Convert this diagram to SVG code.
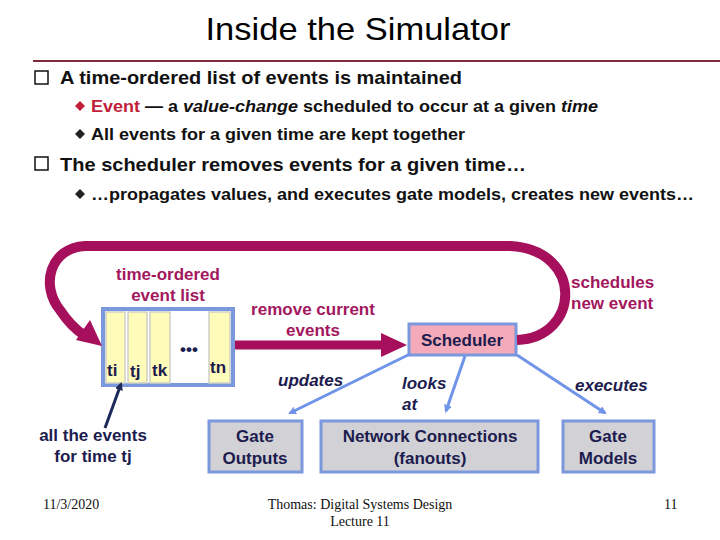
<svg xmlns="http://www.w3.org/2000/svg" width="720" height="540" viewBox="0 0 720 540">
<style>
.b{font-family:"Liberation Sans",Arial,sans-serif;font-weight:bold;fill:#111}
.n{font-family:"Liberation Sans",Arial,sans-serif;font-weight:bold;fill:#1c1c4e;font-size:17px}
.ni{font-family:"Liberation Sans",Arial,sans-serif;font-weight:bold;font-style:italic;fill:#1c1c4e;font-size:17px}
.m{font-family:"Liberation Sans",Arial,sans-serif;font-weight:bold;fill:#a3175e;font-size:17px}
.t{font-family:"Liberation Serif","Times New Roman",serif;fill:#111;font-size:14px}
.box{fill:#d2d2d6;stroke:#7b98dc;stroke-width:3}
.cell{fill:#fffbb8;stroke:#cfd0c8;stroke-width:1.5}
.blue{stroke:#6f94e8;stroke-width:3;fill:none}
.mag{stroke:#a50f5c;fill:none}
</style>
<defs>
<marker id="ba" markerWidth="8" markerHeight="8" refX="6" refY="4" orient="auto" markerUnits="userSpaceOnUse" viewBox="0 0 8 8">
<path d="M0,0 L8,4 L0,8 Z" fill="#6f94e8"/>
</marker>
<marker id="na" markerWidth="8" markerHeight="8" refX="6" refY="4" orient="auto" markerUnits="userSpaceOnUse" viewBox="0 0 8 8">
<path d="M0,0 L8,4 L0,8 Z" fill="#1c2a5a"/>
</marker>
</defs>
<rect width="720" height="540" fill="#fff"/>
<text x="358" y="40" text-anchor="middle" font-family="'Liberation Sans',Arial,sans-serif" font-size="32" fill="#000" textLength="305" lengthAdjust="spacingAndGlyphs">Inside the Simulator</text>
<line x1="33" y1="61" x2="720" y2="61" stroke="#7f2a3a" stroke-width="2"/>
<rect x="35" y="71" width="13" height="13" fill="none" stroke="#111" stroke-width="1.5"/>
<text class="b" x="60" y="84" font-size="19" textLength="402" lengthAdjust="spacingAndGlyphs">A time-ordered list of events is maintained</text>
<path d="M80,101 L85,106 L80,111 L75,106 Z" fill="#c0203a"/>
<text class="b" x="91" y="112" font-size="17" textLength="507" lengthAdjust="spacingAndGlyphs"><tspan fill="#c0203a">Event</tspan> — a <tspan font-style="italic">value-change</tspan> scheduled to occur at a given <tspan font-style="italic">time</tspan></text>
<path d="M80,129 L85,134 L80,139 L75,134 Z" fill="#222"/>
<text class="b" x="91" y="140" font-size="17" textLength="374" lengthAdjust="spacingAndGlyphs">All events for a given time are kept together</text>
<rect x="35" y="157" width="13" height="13" fill="none" stroke="#111" stroke-width="1.5"/>
<text class="b" x="60" y="171" font-size="19" textLength="466" lengthAdjust="spacingAndGlyphs">The scheduler removes events for a given time…</text>
<path d="M80,189 L85,194 L80,199 L75,194 Z" fill="#222"/>
<text class="b" x="91" y="200" font-size="17" textLength="603" lengthAdjust="spacingAndGlyphs">…propagates values, and executes gate models, creates new events…</text>

<g id="event-list">
<rect x="103" y="309" width="130" height="76" fill="#fff" stroke="#7b98dc" stroke-width="4"/>
<rect class="cell" x="106" y="312" width="19" height="71"/>
<rect class="cell" x="128" y="312" width="19" height="71"/>
<rect class="cell" x="150" y="312" width="20" height="71"/>
<rect class="cell" x="209" y="312" width="21" height="71"/>
<text class="n" x="107" y="376">ti</text>
<text class="n" x="130" y="377">tj</text>
<text class="n" x="152" y="376">tk</text>
<text class="n" x="210" y="373">tn</text>
<text class="n" x="189" y="355" text-anchor="middle" font-size="14">•••</text>
<text class="m" x="168" y="280" text-anchor="middle">time-ordered</text>
<text class="m" x="168" y="301" text-anchor="middle">event list</text>
</g>

<g id="remove-label">
<text class="m" x="313" y="315" text-anchor="middle">remove current</text>
<text class="m" x="313" y="336" text-anchor="middle">events</text>
</g>

<g id="schedules-label">
<text class="m" x="571" y="288">schedules</text>
<text class="m" x="571" y="309">new event</text>
</g>

<g id="scheduler">
<rect x="409" y="324" width="107" height="31" fill="#f4aab8" stroke="#7b98dc" stroke-width="3"/>
<text class="n" x="462" y="346" text-anchor="middle">Scheduler</text>
</g>

<g id="edge-labels">
<text class="ni" x="278" y="386">updates</text>
<text class="ni" x="402" y="389">looks</text>
<text class="ni" x="402" y="410">at</text>
<text class="ni" x="575" y="391">executes</text>
</g>

<g id="all-events-label">
<text class="n" x="93" y="441" text-anchor="middle">all the events</text>
<text class="n" x="93" y="462" text-anchor="middle">for time tj</text>
</g>

<g id="gate-outputs">
<rect class="box" x="209" y="421" width="93" height="51"/>
<text class="n" x="255" y="442" text-anchor="middle">Gate</text>
<text class="n" x="255" y="464" text-anchor="middle">Outputs</text>
</g>

<g id="network-connections">
<rect class="box" x="321" y="421" width="217" height="51"/>
<text class="n" x="430" y="442" text-anchor="middle">Network Connections</text>
<text class="n" x="430" y="464" text-anchor="middle">(fanouts)</text>
</g>

<g id="gate-models">
<rect class="box" x="563" y="421" width="91" height="51"/>
<text class="n" x="608" y="442" text-anchor="middle">Gate</text>
<text class="n" x="608" y="464" text-anchor="middle">Models</text>
</g>

<g id="connectors">
<path class="mag" stroke-width="10" d="M517,340 C580,338 585,250 510,246 L85,246 C50,248 40,285 60,310 C68,322 76,330 84,335"/>
<path d="M102,346 L76,340 L90,320 Z" fill="#a50f5c"/>
<line class="mag" stroke-width="9" x1="235" y1="345" x2="385" y2="345"/>
<path d="M407,345 L381,333 L381,357 Z" fill="#a50f5c"/>
<line class="blue" x1="410" y1="354" x2="290" y2="413" marker-end="url(#ba)"/>
<line class="blue" x1="465" y1="356" x2="446" y2="411" marker-end="url(#ba)"/>
<line class="blue" x1="517" y1="355" x2="605" y2="413" marker-end="url(#ba)"/>
<line x1="105" y1="428" x2="121" y2="384" stroke="#1c2a5a" stroke-width="3" marker-end="url(#na)"/>
</g>

<g id="footer">
<text class="t" x="43" y="509">11/3/2020</text>
<text class="t" x="360" y="509" text-anchor="middle">Thomas: Digital Systems Design</text>
<text class="t" x="360" y="526" text-anchor="middle">Lecture 11</text>
<text class="t" x="664" y="509">11</text>
</g>
</svg>
